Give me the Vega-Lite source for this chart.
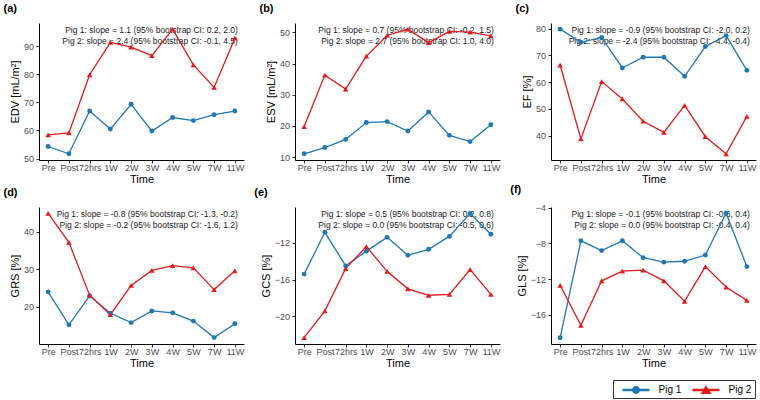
{
  "$schema": "https://vega.github.io/schema/vega-lite/v6.json",
  "padding": {"left": 3, "top": 3, "right": 2, "bottom": 2},
  "background": "white",
  "bounds": "flush",
  "columns": 3,
  "spacing": {"row": 47, "column": 51},
  "datasets": {
    "vals": [
      {"m": "EDV", "pig": "Pig 1", "time": "Pre", "v": 54.3}, {"m": "EDV", "pig": "Pig 1", "time": "Post", "v": 51.7}, {"m": "EDV", "pig": "Pig 1", "time": "72hrs", "v": 66.9}, {"m": "EDV", "pig": "Pig 1", "time": "1W", "v": 60.5}, {"m": "EDV", "pig": "Pig 1", "time": "2W", "v": 69.3}, {"m": "EDV", "pig": "Pig 1", "time": "3W", "v": 59.8}, {"m": "EDV", "pig": "Pig 1", "time": "4W", "v": 64.6}, {"m": "EDV", "pig": "Pig 1", "time": "5W", "v": 63.5}, {"m": "EDV", "pig": "Pig 1", "time": "7W", "v": 65.6}, {"m": "EDV", "pig": "Pig 1", "time": "11W", "v": 66.9},
      {"m": "EDV", "pig": "Pig 2", "time": "Pre", "v": 58.4}, {"m": "EDV", "pig": "Pig 2", "time": "Post", "v": 59.1}, {"m": "EDV", "pig": "Pig 2", "time": "72hrs", "v": 79.8}, {"m": "EDV", "pig": "Pig 2", "time": "1W", "v": 91.3}, {"m": "EDV", "pig": "Pig 2", "time": "2W", "v": 89.6}, {"m": "EDV", "pig": "Pig 2", "time": "3W", "v": 86.6}, {"m": "EDV", "pig": "Pig 2", "time": "4W", "v": 96.0}, {"m": "EDV", "pig": "Pig 2", "time": "5W", "v": 83.3}, {"m": "EDV", "pig": "Pig 2", "time": "7W", "v": 75.3}, {"m": "EDV", "pig": "Pig 2", "time": "11W", "v": 92.8},
      {"m": "ESV", "pig": "Pig 1", "time": "Pre", "v": 11.1}, {"m": "ESV", "pig": "Pig 1", "time": "Post", "v": 13.1}, {"m": "ESV", "pig": "Pig 1", "time": "72hrs", "v": 15.7}, {"m": "ESV", "pig": "Pig 1", "time": "1W", "v": 21.1}, {"m": "ESV", "pig": "Pig 1", "time": "2W", "v": 21.4}, {"m": "ESV", "pig": "Pig 1", "time": "3W", "v": 18.4}, {"m": "ESV", "pig": "Pig 1", "time": "4W", "v": 24.5}, {"m": "ESV", "pig": "Pig 1", "time": "5W", "v": 17.0}, {"m": "ESV", "pig": "Pig 1", "time": "7W", "v": 15.0}, {"m": "ESV", "pig": "Pig 1", "time": "11W", "v": 20.4},
      {"m": "ESV", "pig": "Pig 2", "time": "Pre", "v": 19.8}, {"m": "ESV", "pig": "Pig 2", "time": "Post", "v": 36.3}, {"m": "ESV", "pig": "Pig 2", "time": "72hrs", "v": 31.8}, {"m": "ESV", "pig": "Pig 2", "time": "1W", "v": 42.4}, {"m": "ESV", "pig": "Pig 2", "time": "2W", "v": 49.0}, {"m": "ESV", "pig": "Pig 2", "time": "3W", "v": 51.0}, {"m": "ESV", "pig": "Pig 2", "time": "4W", "v": 46.7}, {"m": "ESV", "pig": "Pig 2", "time": "5W", "v": 50.3}, {"m": "ESV", "pig": "Pig 2", "time": "7W", "v": 50.1}, {"m": "ESV", "pig": "Pig 2", "time": "11W", "v": 48.9},
      {"m": "EF", "pig": "Pig 1", "time": "Pre", "v": 79.8}, {"m": "EF", "pig": "Pig 1", "time": "Post", "v": 74.9}, {"m": "EF", "pig": "Pig 1", "time": "72hrs", "v": 76.7}, {"m": "EF", "pig": "Pig 1", "time": "1W", "v": 65.3}, {"m": "EF", "pig": "Pig 1", "time": "2W", "v": 69.3}, {"m": "EF", "pig": "Pig 1", "time": "3W", "v": 69.3}, {"m": "EF", "pig": "Pig 1", "time": "4W", "v": 62.2}, {"m": "EF", "pig": "Pig 1", "time": "5W", "v": 73.3}, {"m": "EF", "pig": "Pig 1", "time": "7W", "v": 77.4}, {"m": "EF", "pig": "Pig 1", "time": "11W", "v": 64.4},
      {"m": "EF", "pig": "Pig 2", "time": "Pre", "v": 66.4}, {"m": "EF", "pig": "Pig 2", "time": "Post", "v": 38.8}, {"m": "EF", "pig": "Pig 2", "time": "72hrs", "v": 60.2}, {"m": "EF", "pig": "Pig 2", "time": "1W", "v": 53.7}, {"m": "EF", "pig": "Pig 2", "time": "2W", "v": 45.4}, {"m": "EF", "pig": "Pig 2", "time": "3W", "v": 41.2}, {"m": "EF", "pig": "Pig 2", "time": "4W", "v": 51.3}, {"m": "EF", "pig": "Pig 2", "time": "5W", "v": 39.6}, {"m": "EF", "pig": "Pig 2", "time": "7W", "v": 33.2}, {"m": "EF", "pig": "Pig 2", "time": "11W", "v": 47.2},
      {"m": "GRS", "pig": "Pig 1", "time": "Pre", "v": 24.0}, {"m": "GRS", "pig": "Pig 1", "time": "Post", "v": 15.2}, {"m": "GRS", "pig": "Pig 1", "time": "72hrs", "v": 22.9}, {"m": "GRS", "pig": "Pig 1", "time": "1W", "v": 18.3}, {"m": "GRS", "pig": "Pig 1", "time": "2W", "v": 15.8}, {"m": "GRS", "pig": "Pig 1", "time": "3W", "v": 18.9}, {"m": "GRS", "pig": "Pig 1", "time": "4W", "v": 18.4}, {"m": "GRS", "pig": "Pig 1", "time": "5W", "v": 16.2}, {"m": "GRS", "pig": "Pig 1", "time": "7W", "v": 11.8}, {"m": "GRS", "pig": "Pig 1", "time": "11W", "v": 15.5},
      {"m": "GRS", "pig": "Pig 2", "time": "Pre", "v": 44.9}, {"m": "GRS", "pig": "Pig 2", "time": "Post", "v": 37.2}, {"m": "GRS", "pig": "Pig 2", "time": "72hrs", "v": 23.1}, {"m": "GRS", "pig": "Pig 2", "time": "1W", "v": 17.9}, {"m": "GRS", "pig": "Pig 2", "time": "2W", "v": 25.7}, {"m": "GRS", "pig": "Pig 2", "time": "3W", "v": 29.7}, {"m": "GRS", "pig": "Pig 2", "time": "4W", "v": 31.0}, {"m": "GRS", "pig": "Pig 2", "time": "5W", "v": 30.4}, {"m": "GRS", "pig": "Pig 2", "time": "7W", "v": 24.6}, {"m": "GRS", "pig": "Pig 2", "time": "11W", "v": 29.6},
      {"m": "GCS", "pig": "Pig 1", "time": "Pre", "v": -15.4}, {"m": "GCS", "pig": "Pig 1", "time": "Post", "v": -10.85}, {"m": "GCS", "pig": "Pig 1", "time": "72hrs", "v": -14.5}, {"m": "GCS", "pig": "Pig 1", "time": "1W", "v": -12.9}, {"m": "GCS", "pig": "Pig 1", "time": "2W", "v": -11.4}, {"m": "GCS", "pig": "Pig 1", "time": "3W", "v": -13.35}, {"m": "GCS", "pig": "Pig 1", "time": "4W", "v": -12.7}, {"m": "GCS", "pig": "Pig 1", "time": "5W", "v": -11.3}, {"m": "GCS", "pig": "Pig 1", "time": "7W", "v": -8.8}, {"m": "GCS", "pig": "Pig 1", "time": "11W", "v": -11.06},
      {"m": "GCS", "pig": "Pig 2", "time": "Pre", "v": -22.3}, {"m": "GCS", "pig": "Pig 2", "time": "Post", "v": -19.4}, {"m": "GCS", "pig": "Pig 2", "time": "72hrs", "v": -14.8}, {"m": "GCS", "pig": "Pig 2", "time": "1W", "v": -12.4}, {"m": "GCS", "pig": "Pig 2", "time": "2W", "v": -15.1}, {"m": "GCS", "pig": "Pig 2", "time": "3W", "v": -17.0}, {"m": "GCS", "pig": "Pig 2", "time": "4W", "v": -17.7}, {"m": "GCS", "pig": "Pig 2", "time": "5W", "v": -17.6}, {"m": "GCS", "pig": "Pig 2", "time": "7W", "v": -14.9}, {"m": "GCS", "pig": "Pig 2", "time": "11W", "v": -17.6},
      {"m": "GLS", "pig": "Pig 1", "time": "Pre", "v": -18.6}, {"m": "GLS", "pig": "Pig 1", "time": "Post", "v": -7.7}, {"m": "GLS", "pig": "Pig 1", "time": "72hrs", "v": -8.8}, {"m": "GLS", "pig": "Pig 1", "time": "1W", "v": -7.7}, {"m": "GLS", "pig": "Pig 1", "time": "2W", "v": -9.6}, {"m": "GLS", "pig": "Pig 1", "time": "3W", "v": -10.1}, {"m": "GLS", "pig": "Pig 1", "time": "4W", "v": -10.0}, {"m": "GLS", "pig": "Pig 1", "time": "5W", "v": -9.3}, {"m": "GLS", "pig": "Pig 1", "time": "7W", "v": -4.6}, {"m": "GLS", "pig": "Pig 1", "time": "11W", "v": -10.6},
      {"m": "GLS", "pig": "Pig 2", "time": "Pre", "v": -12.7}, {"m": "GLS", "pig": "Pig 2", "time": "Post", "v": -17.2}, {"m": "GLS", "pig": "Pig 2", "time": "72hrs", "v": -12.2}, {"m": "GLS", "pig": "Pig 2", "time": "1W", "v": -11.1}, {"m": "GLS", "pig": "Pig 2", "time": "2W", "v": -11.0}, {"m": "GLS", "pig": "Pig 2", "time": "3W", "v": -12.2}, {"m": "GLS", "pig": "Pig 2", "time": "4W", "v": -14.5}, {"m": "GLS", "pig": "Pig 2", "time": "5W", "v": -10.6}, {"m": "GLS", "pig": "Pig 2", "time": "7W", "v": -12.9}, {"m": "GLS", "pig": "Pig 2", "time": "11W", "v": -14.4}
    ],
    "notes": [
      {"m": "EDV", "time": "11W", "v": 95.7, "t": "Pig 1: slope = 1.1 (95% bootstrap CI: 0.2, 2.0)"},
      {"m": "EDV", "time": "11W", "v": 91.7, "t": "Pig 2: slope = 2.4 (95% bootstrap CI: -0.1, 4.5)"},
      {"m": "ESV", "time": "11W", "v": 50.8, "t": "Pig 1: slope = 0.7 (95% bootstrap CI: -0.2, 1.5)"},
      {"m": "ESV", "time": "11W", "v": 47.2, "t": "Pig 2: slope = 2.7 (95% bootstrap CI: 1.0, 4.0)"},
      {"m": "EF", "time": "11W", "v": 79.5, "t": "Pig 1: slope = -0.9 (95% bootstrap CI: -2.0, 0.2)"},
      {"m": "EF", "time": "11W", "v": 75.3, "t": "Pig 2: slope = -2.4 (95% bootstrap CI: -4.4, -0.4)"},
      {"m": "GRS", "time": "11W", "v": 44.75, "t": "Pig 1: slope = -0.8 (95% bootstrap CI: -1.3, -0.2)"},
      {"m": "GRS", "time": "11W", "v": 41.76, "t": "Pig 2: slope = -0.2 (95% bootstrap CI: -1.6, 1.2)"},
      {"m": "GCS", "time": "11W", "v": -8.86, "t": "Pig 1: slope = 0.5 (95% bootstrap CI: 0.2, 0.8)"},
      {"m": "GCS", "time": "11W", "v": -10.08, "t": "Pig 2: slope = 0.0 (95% bootstrap CI: -0.5, 0.6)"},
      {"m": "GLS", "time": "11W", "v": -4.68, "t": "Pig 1: slope = -0.1 (95% bootstrap CI: -0.6, 0.4)"},
      {"m": "GLS", "time": "11W", "v": -5.94, "t": "Pig 2: slope = 0.0 (95% bootstrap CI: -0.4, 0.4)"}
    ]
  },
  "concat": [
    {
      "width": 205, "height": 137, "title": "(a)",
      "layer": [
        {"data": {"name": "notes"}, "transform": [{"filter": "datum.m == 'EDV'"}], "mark": {"type": "text", "align": "right", "baseline": "middle", "fontSize": 8.5, "dx": 3, "color": "#1a1a1a"},
         "encoding": {"x": {"field": "time", "type": "ordinal", "scale": {"type": "point", "padding": 0.44, "domain": ["Pre","Post","72hrs","1W","2W","3W","4W","5W","7W","11W"]}, "axis": {"title": "Time"}}, "y": {"field": "v", "type": "quantitative", "scale": {"domain": [49.5, 98.2], "nice": false, "zero": false}, "axis": {"title": "EDV [mL/m²]", "values": [50,60,70,80,90], "tickCount": 20}}, "text": {"field": "t"}}},
        {"data": {"name": "vals"}, "transform": [{"filter": "datum.m == 'EDV'"}], "mark": {"type": "line", "strokeWidth": 1.3},
         "encoding": {"x": {"field": "time", "type": "ordinal", "sort": null}, "y": {"field": "v", "type": "quantitative"}, "stroke": {"field": "pig", "type": "nominal", "scale": {"range": ["#1F78B4","#E31A1C"]}, "legend": null}}},
        {"data": {"name": "vals"}, "transform": [{"filter": "datum.m == 'EDV' && datum.pig == 'Pig 1'"}], "mark": {"type": "point", "shape": "circle", "filled": true, "opacity": 1, "size": 24},
         "encoding": {"x": {"field": "time", "type": "ordinal", "sort": null}, "y": {"field": "v", "type": "quantitative"}, "fill": {"field": "pig", "type": "nominal", "scale": {"range": ["#1F78B4","#E31A1C"]}, "legend": null}}},
        {"data": {"name": "vals"}, "transform": [{"filter": "datum.m == 'EDV' && datum.pig == 'Pig 2'"}], "mark": {"type": "point", "shape": "triangle-up", "filled": true, "opacity": 1, "size": 30},
         "encoding": {"x": {"field": "time", "type": "ordinal", "sort": null}, "y": {"field": "v", "type": "quantitative"}, "fill": {"field": "pig", "type": "nominal", "legend": null}}},
        {"data": {"name": "vals"}, "transform": [{"filter": "datum.m == 'EDV'"}], "mark": {"type": "point", "filled": true, "opacity": 0, "size": 1},
         "encoding": {"x": {"field": "time", "type": "ordinal", "sort": null}, "y": {"field": "v", "type": "quantitative"},
           "color": {"field": "pig", "type": "nominal", "scale": {"domain": ["Pig 1","Pig 2"], "range": ["#1F78B4","#E31A1C"]},
             "legend": {"title": null, "orient": "none", "legendX": 574, "legendY": 357, "direction": "horizontal", "strokeColor": "#333333", "padding": 3, "labelFontSize": 10, "labelFont": "Liberation Sans", "labelColor": "#000000", "symbolSize": 182, "symbolOffset": 13, "labelOffset": 15.5, "columnPadding": 4, "symbolOpacity": 1, "symbolStrokeWidth": 0}},
           "shape": {"field": "pig", "type": "nominal", "scale": {"domain": ["Pig 1","Pig 2"], "range": ["M-2,-0.2L2,-0.2L2,0.2L-2,0.2Z M0.6,0 A0.6,0.6 0 1,1 -0.6,0 A0.6,0.6 0 1,1 0.6,0Z", "M-2,-0.2L2,-0.2L2,0.2L-2,0.2Z M0,-0.7L0.8,0.6L-0.8,0.6Z"]},
             "legend": {"title": null, "orient": "none", "legendX": 574, "legendY": 357, "direction": "horizontal", "strokeColor": "#333333", "padding": 3, "labelFontSize": 10, "labelFont": "Liberation Sans", "labelColor": "#000000", "symbolSize": 182, "symbolOffset": 13, "labelOffset": 15.5, "columnPadding": 4, "symbolOpacity": 1, "symbolStrokeWidth": 0}}}}
      ]
    },
    {
      "width": 205, "height": 137, "title": "(b)",
      "layer": [
        {"data": {"name": "notes"}, "transform": [{"filter": "datum.m == 'ESV'"}], "mark": {"type": "text", "align": "right", "baseline": "middle", "fontSize": 8.5, "dx": 3, "color": "#1a1a1a"},
         "encoding": {"x": {"field": "time", "type": "ordinal", "scale": {"type": "point", "padding": 0.44, "domain": ["Pre","Post","72hrs","1W","2W","3W","4W","5W","7W","11W"]}, "axis": {"title": "Time"}}, "y": {"field": "v", "type": "quantitative", "scale": {"domain": [9.1, 53], "nice": false, "zero": false}, "axis": {"title": "ESV [mL/m²]", "values": [10,20,30,40,50], "tickCount": 20}}, "text": {"field": "t"}}},
        {"data": {"name": "vals"}, "transform": [{"filter": "datum.m == 'ESV'"}], "mark": {"type": "line", "strokeWidth": 1.3},
         "encoding": {"x": {"field": "time", "type": "ordinal", "sort": null}, "y": {"field": "v", "type": "quantitative"}, "stroke": {"field": "pig", "type": "nominal", "legend": null}}},
        {"data": {"name": "vals"}, "transform": [{"filter": "datum.m == 'ESV' && datum.pig == 'Pig 1'"}], "mark": {"type": "point", "shape": "circle", "filled": true, "opacity": 1, "size": 24},
         "encoding": {"x": {"field": "time", "type": "ordinal", "sort": null}, "y": {"field": "v", "type": "quantitative"}, "fill": {"field": "pig", "type": "nominal", "legend": null}}},
        {"data": {"name": "vals"}, "transform": [{"filter": "datum.m == 'ESV' && datum.pig == 'Pig 2'"}], "mark": {"type": "point", "shape": "triangle-up", "filled": true, "opacity": 1, "size": 30},
         "encoding": {"x": {"field": "time", "type": "ordinal", "sort": null}, "y": {"field": "v", "type": "quantitative"}, "fill": {"field": "pig", "type": "nominal", "legend": null}}}
      ]
    },
    {
      "width": 205, "height": 137, "title": "(c)",
      "layer": [
        {"data": {"name": "notes"}, "transform": [{"filter": "datum.m == 'EF'"}], "mark": {"type": "text", "align": "right", "baseline": "middle", "fontSize": 8.5, "dx": 3, "color": "#1a1a1a"},
         "encoding": {"x": {"field": "time", "type": "ordinal", "scale": {"type": "point", "padding": 0.44, "domain": ["Pre","Post","72hrs","1W","2W","3W","4W","5W","7W","11W"]}, "axis": {"title": "Time"}}, "y": {"field": "v", "type": "quantitative", "scale": {"domain": [30.9, 82.1], "nice": false, "zero": false}, "axis": {"title": "EF [%]", "values": [40,50,60,70,80], "tickCount": 20}}, "text": {"field": "t"}}},
        {"data": {"name": "vals"}, "transform": [{"filter": "datum.m == 'EF'"}], "mark": {"type": "line", "strokeWidth": 1.3},
         "encoding": {"x": {"field": "time", "type": "ordinal", "sort": null}, "y": {"field": "v", "type": "quantitative"}, "stroke": {"field": "pig", "type": "nominal", "legend": null}}},
        {"data": {"name": "vals"}, "transform": [{"filter": "datum.m == 'EF' && datum.pig == 'Pig 1'"}], "mark": {"type": "point", "shape": "circle", "filled": true, "opacity": 1, "size": 24},
         "encoding": {"x": {"field": "time", "type": "ordinal", "sort": null}, "y": {"field": "v", "type": "quantitative"}, "fill": {"field": "pig", "type": "nominal", "legend": null}}},
        {"data": {"name": "vals"}, "transform": [{"filter": "datum.m == 'EF' && datum.pig == 'Pig 2'"}], "mark": {"type": "point", "shape": "triangle-up", "filled": true, "opacity": 1, "size": 30},
         "encoding": {"x": {"field": "time", "type": "ordinal", "sort": null}, "y": {"field": "v", "type": "quantitative"}, "fill": {"field": "pig", "type": "nominal", "legend": null}}}
      ]
    },
    {
      "width": 205, "height": 137, "title": "(d)",
      "layer": [
        {"data": {"name": "notes"}, "transform": [{"filter": "datum.m == 'GRS'"}], "mark": {"type": "text", "align": "right", "baseline": "middle", "fontSize": 8.5, "dx": 3, "color": "#1a1a1a"},
         "encoding": {"x": {"field": "time", "type": "ordinal", "scale": {"type": "point", "padding": 0.44, "domain": ["Pre","Post","72hrs","1W","2W","3W","4W","5W","7W","11W"]}, "axis": {"title": "Time"}}, "y": {"field": "v", "type": "quantitative", "scale": {"domain": [10.1, 46.6], "nice": false, "zero": false}, "axis": {"title": "GRS [%]", "values": [20,30,40], "tickCount": 20}}, "text": {"field": "t"}}},
        {"data": {"name": "vals"}, "transform": [{"filter": "datum.m == 'GRS'"}], "mark": {"type": "line", "strokeWidth": 1.3},
         "encoding": {"x": {"field": "time", "type": "ordinal", "sort": null}, "y": {"field": "v", "type": "quantitative"}, "stroke": {"field": "pig", "type": "nominal", "legend": null}}},
        {"data": {"name": "vals"}, "transform": [{"filter": "datum.m == 'GRS' && datum.pig == 'Pig 1'"}], "mark": {"type": "point", "shape": "circle", "filled": true, "opacity": 1, "size": 24},
         "encoding": {"x": {"field": "time", "type": "ordinal", "sort": null}, "y": {"field": "v", "type": "quantitative"}, "fill": {"field": "pig", "type": "nominal", "legend": null}}},
        {"data": {"name": "vals"}, "transform": [{"filter": "datum.m == 'GRS' && datum.pig == 'Pig 2'"}], "mark": {"type": "point", "shape": "triangle-up", "filled": true, "opacity": 1, "size": 30},
         "encoding": {"x": {"field": "time", "type": "ordinal", "sort": null}, "y": {"field": "v", "type": "quantitative"}, "fill": {"field": "pig", "type": "nominal", "legend": null}}}
      ]
    },
    {
      "width": 205, "height": 137, "title": "(e)",
      "layer": [
        {"data": {"name": "notes"}, "transform": [{"filter": "datum.m == 'GCS'"}], "mark": {"type": "text", "align": "right", "baseline": "middle", "fontSize": 8.5, "dx": 3, "color": "#1a1a1a"},
         "encoding": {"x": {"field": "time", "type": "ordinal", "scale": {"type": "point", "padding": 0.44, "domain": ["Pre","Post","72hrs","1W","2W","3W","4W","5W","7W","11W"]}, "axis": {"title": "Time"}}, "y": {"field": "v", "type": "quantitative", "scale": {"domain": [-23, -8.1], "nice": false, "zero": false}, "axis": {"title": "GCS [%]", "values": [-20,-16,-12], "tickCount": 20}}, "text": {"field": "t"}}},
        {"data": {"name": "vals"}, "transform": [{"filter": "datum.m == 'GCS'"}], "mark": {"type": "line", "strokeWidth": 1.3},
         "encoding": {"x": {"field": "time", "type": "ordinal", "sort": null}, "y": {"field": "v", "type": "quantitative"}, "stroke": {"field": "pig", "type": "nominal", "legend": null}}},
        {"data": {"name": "vals"}, "transform": [{"filter": "datum.m == 'GCS' && datum.pig == 'Pig 1'"}], "mark": {"type": "point", "shape": "circle", "filled": true, "opacity": 1, "size": 24},
         "encoding": {"x": {"field": "time", "type": "ordinal", "sort": null}, "y": {"field": "v", "type": "quantitative"}, "fill": {"field": "pig", "type": "nominal", "legend": null}}},
        {"data": {"name": "vals"}, "transform": [{"filter": "datum.m == 'GCS' && datum.pig == 'Pig 2'"}], "mark": {"type": "point", "shape": "triangle-up", "filled": true, "opacity": 1, "size": 30},
         "encoding": {"x": {"field": "time", "type": "ordinal", "sort": null}, "y": {"field": "v", "type": "quantitative"}, "fill": {"field": "pig", "type": "nominal", "legend": null}}}
      ]
    },
    {
      "width": 205, "height": 137, "title": "(f)",
      "layer": [
        {"data": {"name": "notes"}, "transform": [{"filter": "datum.m == 'GLS'"}], "mark": {"type": "text", "align": "right", "baseline": "middle", "fontSize": 8.5, "dx": 3, "color": "#1a1a1a"},
         "encoding": {"x": {"field": "time", "type": "ordinal", "scale": {"type": "point", "padding": 0.44, "domain": ["Pre","Post","72hrs","1W","2W","3W","4W","5W","7W","11W"]}, "axis": {"title": "Time"}}, "y": {"field": "v", "type": "quantitative", "scale": {"domain": [-19.3, -3.9], "nice": false, "zero": false}, "axis": {"title": "GLS [%]", "values": [-16,-12,-8,-4], "tickCount": 20}}, "text": {"field": "t"}}},
        {"data": {"name": "vals"}, "transform": [{"filter": "datum.m == 'GLS'"}], "mark": {"type": "line", "strokeWidth": 1.3},
         "encoding": {"x": {"field": "time", "type": "ordinal", "sort": null}, "y": {"field": "v", "type": "quantitative"}, "stroke": {"field": "pig", "type": "nominal", "legend": null}}},
        {"data": {"name": "vals"}, "transform": [{"filter": "datum.m == 'GLS' && datum.pig == 'Pig 1'"}], "mark": {"type": "point", "shape": "circle", "filled": true, "opacity": 1, "size": 24},
         "encoding": {"x": {"field": "time", "type": "ordinal", "sort": null}, "y": {"field": "v", "type": "quantitative"}, "fill": {"field": "pig", "type": "nominal", "legend": null}}},
        {"data": {"name": "vals"}, "transform": [{"filter": "datum.m == 'GLS' && datum.pig == 'Pig 2'"}], "mark": {"type": "point", "shape": "triangle-up", "filled": true, "opacity": 1, "size": 30},
         "encoding": {"x": {"field": "time", "type": "ordinal", "sort": null}, "y": {"field": "v", "type": "quantitative"}, "fill": {"field": "pig", "type": "nominal", "legend": null}}}
      ]
    }
  ],
  "config": {
    "view": {"stroke": null},
    "font": "Liberation Sans",
    "axis": {"grid": false, "domainColor": "#000000", "tickColor": "#333333", "tickSize": 3, "labelColor": "#4D4D4D", "labelFontSize": 9, "labelFont": "Liberation Sans", "titleFont": "Liberation Sans", "titleFontSize": 11, "titleFontWeight": "normal", "titleColor": "#000000", "labelPadding": 2.5, "titlePadding": 3},
    "axisX": {"labelAngle": 0, "labelOverlap": false, "labelPadding": 0.5, "titlePadding": 1},
    "axisY": {"labelOverlap": false},
    "title": {"anchor": "start", "frame": "bounds", "fontSize": 11, "fontWeight": "bold", "font": "Liberation Sans", "offset": 9, "baseline": "alphabetic", "dx": -6, "color": "#000000"},
    "text": {"font": "Liberation Sans"}
  }
}
